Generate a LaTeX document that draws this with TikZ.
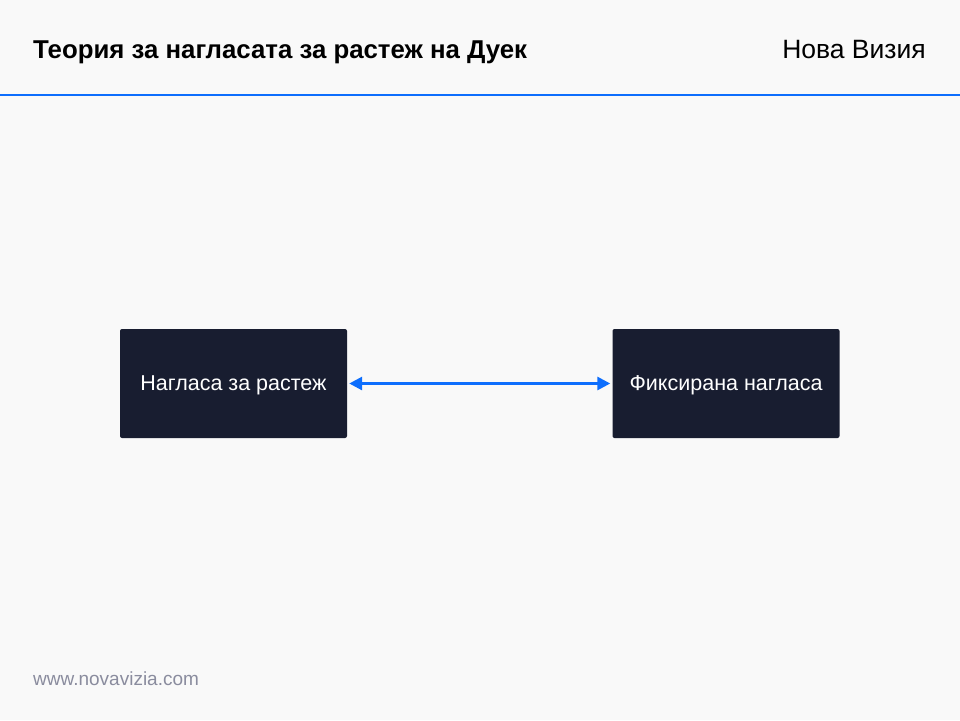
\documentclass[tikz,border=0pt]{standalone}
\usepackage{fontspec}
\setmainfont{Liberation Sans}
\usetikzlibrary{arrows.meta}
\definecolor{pagebg}{HTML}{F9F9F9}
\definecolor{boxfill}{HTML}{181D30}
\definecolor{linkblue}{HTML}{0D6EFD}
\definecolor{footgray}{HTML}{8A8C9E}
\tikzset{
    dark-box/.style = {fill=boxfill, text=white, rectangle, rounded corners=2pt, minimum width=227pt, minimum height=109pt, inner sep=0pt, text depth=0pt, font=\fontsize{21.5}{25}\selectfont},
    head-title/.style = {font=\fontsize{25.8}{30}\selectfont\bfseries, inner sep=0pt, anchor=base west},
    both-arrow/.style = {draw=linkblue, line width=2.8pt, {Triangle[length=13pt,width=13pt]}-{Triangle[length=13pt,width=13pt]}},
}

\begin{document}
\begin{tikzpicture}[x=1pt, y=-1pt]
\fill[pagebg] (0,0) rectangle (960,720);
\useasboundingbox (0,0) rectangle (960,720);
\draw[linkblue, line width=2pt] (0,95) -- (960,95);
\node[head-title] (title) at (33,58) {Теория за нагласата за растеж на Дуек};
\node[font=\fontsize{26.5}{30}\selectfont, inner sep=0pt, anchor=base east] (brand) at (926,58) {Нова Визия};
\node[dark-box] (growth) at (233.5,383.5) {Нагласа за растеж};
\node[dark-box] (fixed) at (726,383.5) {Фиксирана нагласа};
\draw[both-arrow] ([xshift=2pt]growth.east) -- ([xshift=-2pt]fixed.west);
\node[font=\fontsize{19}{22}\selectfont, text=footgray, inner sep=0pt, anchor=base west] (site) at (33,685) {www.novavizia.com};
\end{tikzpicture}
\end{document}
